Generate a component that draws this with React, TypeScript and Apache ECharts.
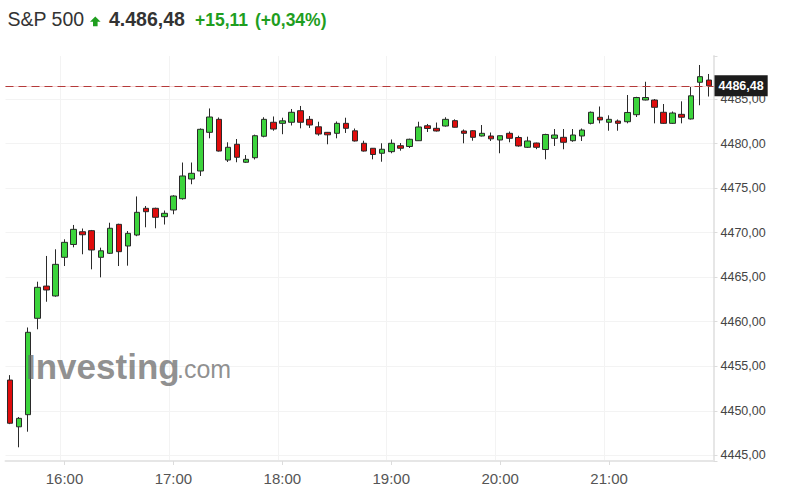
import React, { useEffect, useRef } from 'react';
import * as echarts from 'echarts';

const times: string[] = [
  '15:30', '15:35', '15:40', '15:45', '15:50', '15:55',
  '16:00', '16:05', '16:10', '16:15', '16:20', '16:25', '16:30', '16:35', '16:40', '16:45', '16:50', '16:55',
  '17:00', '17:05', '17:10', '17:15', '17:20', '17:25', '17:30', '17:35', '17:40', '17:45', '17:50', '17:55',
  '18:00', '18:05', '18:10', '18:15', '18:20', '18:25', '18:30', '18:35', '18:40', '18:45', '18:50', '18:55',
  '19:00', '19:05', '19:10', '19:15', '19:20', '19:25', '19:30', '19:35', '19:40', '19:45', '19:50', '19:55',
  '20:00', '20:05', '20:10', '20:15', '20:20', '20:25', '20:30', '20:35', '20:40', '20:45', '20:50', '20:55',
  '21:00', '21:05', '21:10', '21:15', '21:20', '21:25', '21:30', '21:35', '21:40', '21:45', '21:50', '21:55',
];

const opens: number[] = [
  4453.45, 4448.2, 4449.56, 4460.38, 4464.0, 4462.89, 4467.23, 4468.67, 4470.1, 4470.22,
  4467.23, 4467.68, 4470.93, 4468.5, 4469.73, 4472.73, 4472.73, 4471.79, 4472.54, 4473.81,
  4476.02, 4476.92, 4481.26, 4482.72, 4478.15, 4479.92, 4477.9, 4478.41, 4480.82, 4482.39,
  4482.27, 4482.39, 4483.69, 4482.72, 4481.88, 4481.26, 4481.15, 4482.27, 4481.43, 4480.03,
  4479.47, 4478.91, 4479.09, 4479.76, 4479.67, 4480.32, 4482.0, 4481.71, 4481.97, 4482.57,
  4481.41, 4481.44, 4480.85, 4480.85, 4480.4, 4481.15, 4480.68, 4479.58, 4480.06, 4479.33,
  4480.59, 4480.7, 4480.32, 4480.85, 4482.27, 4482.95, 4482.39, 4482.53, 4482.45, 4483.24,
  4484.89, 4484.89, 4483.51, 4482.27, 4483.28, 4482.76, 4486.88, 4487.13,
];
const closes: number[] = [
  4448.6, 4449.15, 4458.81, 4463.86, 4463.56, 4466.44, 4468.91, 4470.37, 4469.76, 4468.05,
  4467.96, 4470.49, 4467.86, 4469.92, 4472.28, 4472.35, 4471.72, 4472.17, 4474.11, 4476.36,
  4476.66, 4481.6, 4482.98, 4479.16, 4479.58, 4478.46, 4478.23, 4480.88, 4482.72, 4481.63,
  4482.55, 4483.51, 4482.39, 4482.08, 4481.07, 4480.98, 4482.27, 4481.71, 4480.29, 4479.16,
  4478.77, 4479.36, 4480.03, 4479.47, 4480.48, 4481.86, 4481.69, 4481.41, 4482.72, 4481.83,
  4481.15, 4480.7, 4481.15, 4480.53, 4480.88, 4480.59, 4479.73, 4480.29, 4479.58, 4481.02,
  4480.96, 4480.14, 4480.96, 4481.52, 4483.51, 4482.65, 4482.72, 4482.27, 4483.49, 4485.17,
  4485.17, 4484.07, 4482.27, 4483.43, 4482.95, 4485.36, 4487.51, 4486.48,
];
const lows: number[] = [
  4448.5, 4445.9, 4447.65, 4459.15, 4462.24, 4462.8, 4466.25, 4468.35, 4467.57, 4465.88,
  4464.98, 4467.6, 4466.25, 4466.29, 4469.6, 4470.6, 4470.49, 4470.91, 4472.06, 4473.7,
  4475.43, 4476.36, 4480.59, 4479.1, 4477.93, 4477.9, 4477.82, 4478.21, 4480.7, 4481.44,
  4481.05, 4482.03, 4481.71, 4481.75, 4480.88, 4479.92, 4480.59, 4481.19, 4480.23, 4479.1,
  4478.23, 4477.96, 4478.91, 4479.2, 4479.5, 4480.29, 4481.3, 4481.35, 4481.9, 4481.8,
  4480.03, 4480.32, 4480.8, 4480.29, 4478.91, 4480.14, 4479.65, 4479.5, 4479.37, 4478.23,
  4479.73, 4479.36, 4480.2, 4480.29, 4482.15, 4482.27, 4481.44, 4481.44, 4482.27, 4482.98,
  4484.85, 4482.27, 4482.2, 4482.2, 4482.27, 4482.7, 4484.3, 4485.28,
];
const highs: number[] = [
  4454.0, 4449.3, 4459.35, 4464.49, 4467.38, 4468.13, 4469.25, 4470.86, 4470.46, 4470.3,
  4468.31, 4471.11, 4471.0, 4470.18, 4474.06, 4472.99, 4472.8, 4472.48, 4474.2, 4477.87,
  4477.87, 4481.7, 4483.94, 4482.93, 4480.14, 4480.51, 4478.71, 4481.0, 4482.95, 4483.04,
  4482.9, 4483.88, 4484.22, 4483.09, 4482.45, 4481.3, 4482.48, 4482.9, 4481.69, 4480.32,
  4479.5, 4480.03, 4480.46, 4480.06, 4480.55, 4482.45, 4482.2, 4482.36, 4482.95, 4482.72,
  4481.58, 4481.5, 4482.08, 4481.24, 4480.9, 4481.35, 4480.88, 4480.77, 4480.1, 4481.1,
  4481.63, 4481.63, 4481.63, 4481.69, 4483.6, 4484.16, 4483.17, 4482.7, 4485.45, 4485.25,
  4486.94, 4485.0, 4484.44, 4483.6, 4484.74, 4486.46, 4488.82, 4487.81,
];

const lastPrice = 4486.48;
const titleName = 'S&P 500';
const titlePrice = '4.486,48';
const titleChange = '+15,11';
const titlePct = '(+0,34%)';

const FONT = '"Liberation Sans", Arial, sans-serif';

function fmt(v: number): string {
  return v.toFixed(2).replace('.', ',');
}

export default function App() {
  const ref = useRef<HTMLDivElement>(null);
  useEffect(() => {
    if (!ref.current) return;
    const chart = echarts.init(ref.current, undefined, { renderer: 'svg' });
    const data = times.map((_, i) => [opens[i], closes[i], lows[i], highs[i]]);
    const isHour = (i: number) => i % 12 === 6;
    const option: any = {
      animation: false,
      backgroundColor: '#ffffff',
      textStyle: { fontFamily: FONT },
      grid: { left: 5.5, right: 74.5, top: 56, bottom: 42, containLabel: false },
      xAxis: {
        type: 'category',
        data: times,
        boundaryGap: true,
        axisLine: { show: true, lineStyle: { color: '#e6e6e6', width: 2 } },
        axisTick: {
          show: true,
          alignWithLabel: true,
          interval: (i: number) => isHour(i),
          length: 4,
          lineStyle: { color: '#dcdcdc' },
        },
        axisLabel: {
          interval: (i: number) => isHour(i),
          color: '#555',
          fontSize: 15,
          fontFamily: FONT,
          margin: 10,
        },
        splitLine: {
          show: true,
          interval: (i: number) => isHour(i),
          lineStyle: { color: '#f3f3f3' },
        },
      },
      yAxis: {
        type: 'value',
        position: 'right',
        scale: true,
        min: 4444.36,
        max: 4489.83,
        splitNumber: 9,
        minInterval: 5,
        maxInterval: 5,
        axisLine: { show: true, lineStyle: { color: '#e6e6e6', width: 2 } },
        axisTick: { show: true, length: 4, lineStyle: { color: '#dcdcdc' } },
        axisLabel: {
          color: '#444',
          fontSize: 12.5,
          fontFamily: FONT,
          margin: 7,
          formatter: (v: number) => (Math.abs(v / 5 - Math.round(v / 5)) < 1e-6 ? fmt(v) : ''),
        },
        splitLine: {
          show: true,
          showMinLine: false,
          showMaxLine: false,
          lineStyle: { color: '#f3f3f3' },
        },
      },
      series: [
        {
          type: 'candlestick',
          data,
          barWidth: 6,
          itemStyle: {
            color: '#3cd43c',
            color0: '#e00c0c',
            borderColor: '#2a2a2a',
            borderColor0: '#2a2a2a',
            borderWidth: 1,
          },
          markLine: {
            symbol: 'none',
            silent: true,
            animation: false,
            data: [
              {
                yAxis: lastPrice,
                lineStyle: { type: 'solid', color: '#f6d4d4', width: 1 },
                label: { show: false },
              },
              {
                yAxis: lastPrice,
                lineStyle: { type: [8, 5], color: '#b43a3a', width: 1 },
                label: {
                  show: true,
                  position: 'end',
                  distance: 1,
                  formatter: () => fmt(lastPrice),
                  color: '#ffffff',
                  fontWeight: 'bold',
                  fontSize: 12.5,
                  fontFamily: FONT,
                  backgroundColor: '#1c1c1c',
                  padding: [4, 4, 4, 4],
                },
              },
            ],
          },
        },
      ],
      graphic: [
        {
          type: 'text',
          left: 7.5,
          top: 9,
          style: { text: titleName, fill: '#333', font: `19.5px ${FONT}` },
        },
        {
          type: 'polygon',
          shape: {
            points: [
              [95.3, 16.4], [100.6, 21.8], [97.6, 21.8], [97.6, 26.2],
              [93.0, 26.2], [93.0, 21.8], [90.0, 21.8],
            ],
          },
          style: { fill: '#1f9e1f' },
        },
        {
          type: 'text',
          left: 109,
          top: 9,
          style: { text: titlePrice, fill: '#333', font: `bold 19.5px ${FONT}` },
        },
        {
          type: 'text',
          left: 195,
          top: 10.5,
          style: { text: titleChange, fill: '#1f9e1f', font: `bold 17.5px ${FONT}` },
        },
        {
          type: 'text',
          left: 255,
          top: 10.5,
          style: { text: titlePct, fill: '#1f9e1f', font: `bold 17.5px ${FONT}` },
        },
        {
          type: 'text',
          left: 26,
          top: 349,
          z: 50,
          style: { text: 'Investing', fill: '#666', opacity: 0.72, font: `bold 35px ${FONT}` },
        },
        {
          type: 'text',
          left: 177,
          top: 356,
          z: 50,
          style: { text: '.com', fill: '#666', opacity: 0.72, font: `25px ${FONT}` },
        },
      ],
    };
    chart.setOption(option);
    return () => chart.dispose();
  }, []);
  return (
    <div
      ref={ref}
      style={{ position: 'fixed', left: 0, top: 0, width: 788, height: 503, background: '#fff' }}
    />
  );
}
